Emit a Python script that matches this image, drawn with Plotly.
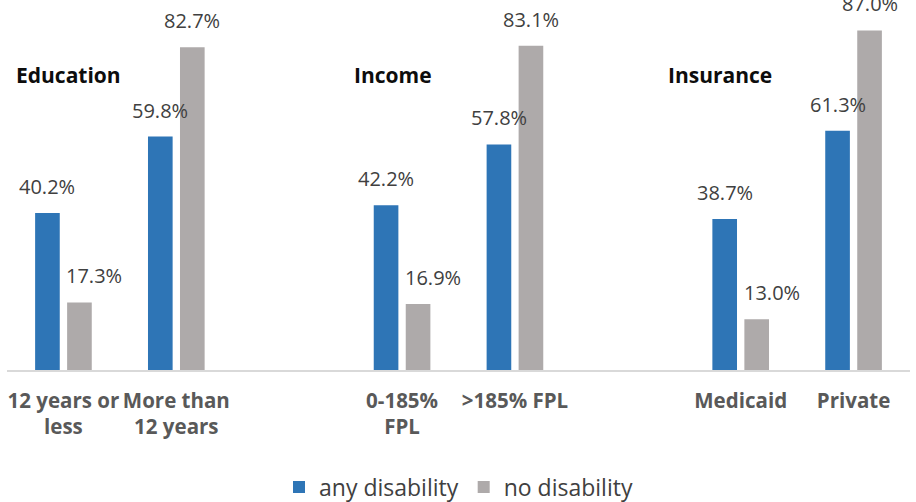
import plotly.graph_objects as go

# ---- data ----
categories = ["12 years or<br>less", "More than<br>12 years", "0-185%<br>FPL", ">185% FPL", "Medicaid", "Private"]
groups = ["Education", "Education", "Income", "Income", "Insurance", "Insurance"]
group_names = ["Education", "Income", "Insurance"]
any_disability = [40.2, 59.8, 42.2, 57.8, 38.7, 61.3]
no_disability = [17.3, 82.7, 16.9, 83.1, 13.0, 87.0]

# ---- positions: one empty slot between groups ----
positions = [i + group_names.index(g) for i, g in enumerate(groups)]

BLUE = "#2E75B6"
GRAY = "#AEAAAA"
FONT = "Open Sans"

fig = go.Figure()
fig.add_trace(go.Bar(x=positions, y=any_disability, name="any disability",
                     marker=dict(color=BLUE, line=dict(width=0))))
fig.add_trace(go.Bar(x=positions, y=no_disability, name="no disability",
                     marker=dict(color=GRAY, line=dict(width=0))))

bargap = 0.433
bargroupgap = 0.23
slot = (1 - bargap) / 2
offsets = [-slot / 2, slot / 2]

annotations = []
for k, series in enumerate([any_disability, no_disability]):
    for p, v in zip(positions, series):
        xshift = 15 if (k == 1 and v < 30) else 0
        annotations.append(dict(x=p + offsets[k], y=v, xref="x", yref="y",
                                text=f"{v:.1f}%", showarrow=False,
                                yanchor="bottom", xanchor="center",
                                yshift=11, xshift=xshift,
                                font=dict(family=FONT, size=20, color="#404040")))

# group titles (left edge placement relative to group's first category)
title_offsets = [-0.44, -0.44, -0.66]
group_first_pos = [positions[groups.index(g)] for g in group_names]
for g, p, o in zip(group_names, group_first_pos, title_offsets):
    annotations.append(dict(x=p + o, y=75.5, xref="x", yref="y", text=g,
                            showarrow=False, xanchor="left", yanchor="middle",
                            font=dict(family=FONT, size=21, color="#0D0D0D", weight="bold")))

fig.update_layout(
    width=916, height=502,
    margin=dict(l=7, r=6, t=0, b=132, autoexpand=False),
    paper_bgcolor="white", plot_bgcolor="white",
    barmode="group", bargap=bargap, bargroupgap=bargroupgap,
    xaxis=dict(range=[-0.5, 7.5], tickvals=positions, ticktext=categories,
               showgrid=False, zeroline=False, showline=True,
               linecolor="#D9D9D9", linewidth=2, ticks="",
               ticklabelstandoff=11,
               tickfont=dict(family=FONT, size=20.5, color="#595959", weight="bold")),
    yaxis=dict(range=[0, 94.8], visible=False, showgrid=False, zeroline=False),
    legend=dict(orientation="h", x=0.5, xanchor="center",
                yref="container", y=0.03, yanchor="middle",
                font=dict(family=FONT, size=23, color="#404040")),
    annotations=annotations,
    showlegend=True,
)

fig.write_html("out.html")
